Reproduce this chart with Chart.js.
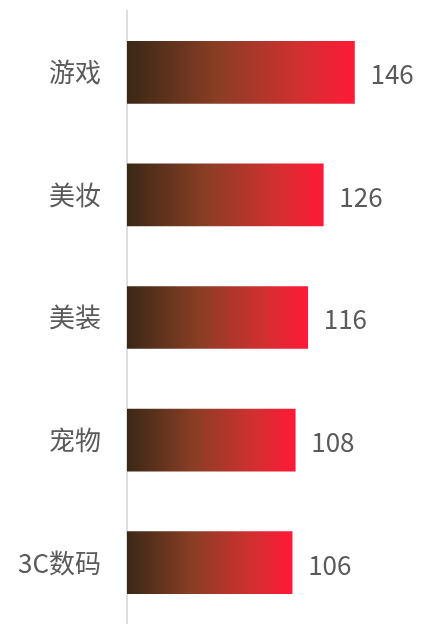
<!DOCTYPE html>
<html>
<head>
<meta charset="utf-8">
<script src="https://cdn.jsdelivr.net/npm/chart.js@4.4.1/dist/chart.umd.min.js"></script>
<style>
  html, body { margin: 0; padding: 0; background: #fff; }
  #wrap { width: 423px; height: 624px; }
</style>
</head>
<body>
<div id="wrap"><canvas id="barChart"></canvas></div>
<script>
const categories = ['游戏', '美妆', '美装', '宠物', '3C数码'];
const values = [146, 126, 116, 108, 106];

const FONT = '"Noto Sans CJK SC", "Noto Sans", sans-serif';

// gradient from the bar start to the bar end
function barGradient(context) {
    const chart = context.chart;
    const x = chart.scales.x;
    if (!x || context.dataIndex === undefined) return '#c03030';
    const x0 = x.getPixelForValue(0);
    const x1 = x.getPixelForValue(values[context.dataIndex]);
    if (!isFinite(x0) || !isFinite(x1) || x1 === x0) return '#c03030';
    const g = chart.ctx.createLinearGradient(x0, 0, x1, 0);
    g.addColorStop(0, '#3a2816');
    g.addColorStop(0.4, '#8a3e24');
    g.addColorStop(0.75, '#d03030');
    g.addColorStop(1, '#ff1a38');
    return g;
}

// value text after each bar
const valueLabels = {
    id: 'valueLabels',
    afterDatasetsDraw(chart) {
        const ctx = chart.ctx;
        const meta = chart.getDatasetMeta(0);
        ctx.save();
        ctx.font = '26px ' + FONT;
        ctx.fillStyle = '#5a5a5a';
        ctx.textAlign = 'left';
        ctx.textBaseline = 'middle';
        meta.data.forEach((bar, i) => {
            ctx.fillText(String(values[i]), bar.x + 16, bar.y + 2);
        });
        ctx.restore();
    }
};

new Chart(document.getElementById('barChart'), {
    type: 'bar',
    data: {
        labels: categories,
        datasets: [{
            data: values,
            backgroundColor: barGradient,
            borderWidth: 0,
            barThickness: 62
        }]
    },
    options: {
        indexAxis: 'y',
        responsive: true,
        maintainAspectRatio: false,
        animation: false,
        layout: { padding: { top: 11, bottom: -3, left: 0, right: 0 } },
        plugins: {
            legend: { display: false },
            tooltip: { enabled: false }
        },
        scales: {
            x: {
                display: false,
                min: 0,
                max: 190
            },
            y: {
                grid: { display: false, drawTicks: false },
                border: { display: true, color: '#dddddd', width: 2 },
                ticks: {
                    color: '#5a5a5a',
                    font: { family: FONT, size: 26 },
                    padding: 26
                },
                afterFit(scale) {
                    scale.width = 127;
                    scale.paddingTop = 0;
                    scale.paddingBottom = 0;
                }
            }
        }
    },
    plugins: [valueLabels]
});
</script>
</body>
</html>
